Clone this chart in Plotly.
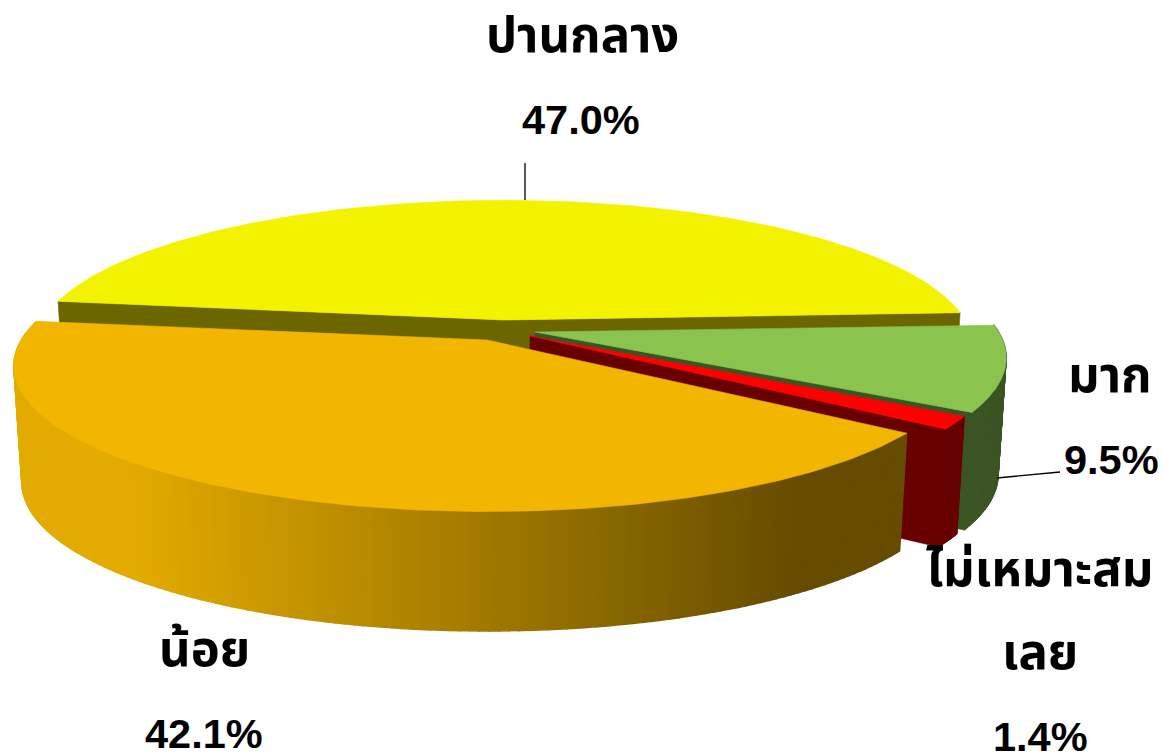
import math
import plotly.graph_objects as go

categories = ["มาก", "ไม่เหมาะสม<br>เลย", "น้อย", "ปานกลาง"]
values = [9.5, 1.4, 42.1, 47.0]

W, H = 1163, 754
START = 3.0
RX, RY, K = 461.0, 141.0, 0.178
DEPTH = 116.0
BOT_X, BOT_Y = 0.983, 1.02
apexes = {0: (535, 332, 1.006), 1: (530, 336, 1.0), 2: (487, 340, 1.01), 3: (504, 320, 1.0)}
tops = ["#8AC44E", "#FF0000", "#F3B600", "#F3F300"]
sides = ["#3B5424", "#680000", "#5E4700", "#6B6600"]
FONT = "Liberation Sans, Arial, Noto Sans Thai, Noto Sans, sans-serif"
SIZE_NUM, SIZE_THAI = 41.5, 49


def pt(i, deg, bottom=False):
    ax, ay, sc = apexes[i]
    t = math.radians(deg)
    X, Y = math.cos(t), math.sin(t)
    s = 1 / (1 + K * Y)
    fx = BOT_X if bottom else 1
    fy = BOT_Y if bottom else 1
    return (ax + RX * sc * X * s * fx, ay - RY * Y * s * fy + (DEPTH if bottom else 0))


def apex(i, bottom=False):
    ax, ay, _ = apexes[i]
    return (ax, ay + (DEPTH if bottom else 0))


def arange(a, b, n):
    return [a + (b - a) * j / n for j in range(n + 1)]


fig = go.Figure()


def poly(points, color, lw=0.6):
    xs = [p[0] for p in points] + [points[0][0]]
    ys = [p[1] for p in points] + [points[0][1]]
    fig.add_trace(go.Scatter(x=xs, y=ys, mode="lines", fill="toself", fillcolor=color,
                             line=dict(color=color, width=lw), hoverinfo="skip", showlegend=False))


spans = []
a = START
for v in values:
    b = a - v * 3.6
    spans.append((a, b))
    a = b


def top(i):
    s, e = spans[i]
    poly([apex(i)] + [pt(i, d) for d in arange(s, e, 140)], tops[i])


def cut(i, deg):
    poly([apex(i), pt(i, deg), pt(i, deg, True), apex(i, True)], sides[i])


def side(i):
    s, e = spans[i]
    ds = arange(s, e, 40)
    for d0, d1 in zip(ds[:-1], ds[1:]):
        poly([pt(i, d0), pt(i, d1), pt(i, d1, True), pt(i, d0, True)], sides[i], 1.0)


cut(3, spans[3][0])
cut(3, spans[3][1])
top(3)
side(0)
cut(0, spans[0][1])
top(0)
cut(1, spans[1][1])
side(1)
top(1)


def lerp(c1, c2, f):
    return "rgb(%d,%d,%d)" % tuple(round(c1[k] + (c2[k] - c1[k]) * f) for k in range(3))


s, e = spans[2]
ds = arange(s, e, 150)
x_left, x_right = 130.0, 800.0
for d0, d1 in zip(ds[:-1], ds[1:]):
    p = pt(2, (d0 + d1) / 2)
    f = max(0, min(1, (p[0] - x_left) / (x_right - x_left)))
    col = lerp((227, 171, 0), (102, 76, 0), f)
    poly([pt(2, d0), pt(2, d1), pt(2, d1, True), pt(2, d0, True)], col, 1.5)
top(2)

fig.add_trace(go.Scatter(x=[525, 525], y=[163, 200], mode="lines", line=dict(color="black", width=1.3),
                         hoverinfo="skip", showlegend=False))
fig.add_trace(go.Scatter(x=[997, 1060], y=[478, 472], mode="lines", line=dict(color="black", width=1.3),
                         hoverinfo="skip", showlegend=False))

label_pos = {0: (1110, 375, 459), 1: (1040, 0, 736), 2: (204, 649, 733), 3: (582, 35, 119)}


def thai(x, y, t):
    fig.add_annotation(x=x, y=y, text=f"<b>{t}</b>", showarrow=False,
                       font=dict(family=FONT, size=SIZE_THAI, color="black"))


for i, (cat, v) in enumerate(zip(categories, values)):
    cx, ny, py = label_pos[i]
    if i == 1:
        first, second = cat.split("<br>")
        thai(1040, 569, first)
        thai(1040, 652, second)
    else:
        thai(cx, ny, cat)
    px = {0: 1111, 1: 1040, 2: 204, 3: 581}[i]
    fig.add_annotation(x=px, y=py, text=f"<b>{v:.1f}%</b>", showarrow=False,
                       font=dict(family=FONT, size=SIZE_NUM, color="black"))

fig.update_layout(width=W, height=H, margin=dict(l=0, r=0, t=0, b=0), showlegend=False,
                  paper_bgcolor="white", plot_bgcolor="white",
                  xaxis=dict(range=[0, W], visible=False, fixedrange=True),
                  yaxis=dict(range=[H, 0], visible=False, fixedrange=True))
fig.write_html("out.html", config={"displayModeBar": False},
               post_script="document.body.style.margin='0';document.documentElement.style.overflow='hidden';")
